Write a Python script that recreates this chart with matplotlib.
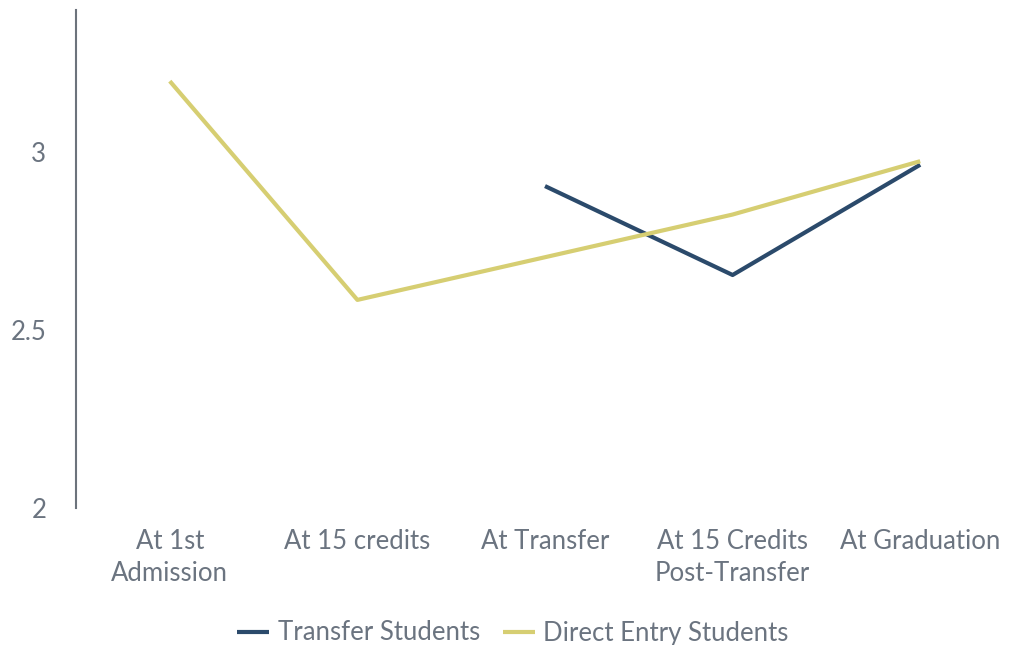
import matplotlib
matplotlib.use("Agg")
import matplotlib.pyplot as plt

categories = ["At 1st\nAdmission", "At 15 credits", "At Transfer", "At 15 Credits\nPost-Transfer", "At Graduation"]
transfer = [None, None, 2.905, 2.655, 2.965]
direct = [3.20, 2.585, 2.705, 2.825, 2.975]
yticks = [2, 2.5, 3]
ytick_labels = ["2", "2.5", "3"]

plt.rcParams['font.family'] = ['Lato', 'DejaVu Sans']
text_color = "#6b7480"
navy = "#2b4a6b"
yellow = "#d6ce72"

fig = plt.figure(figsize=(10.19, 6.45), dpi=100)
ax = fig.add_axes([76/1019, 1 - 508/645, (1014-76)/1019, (508-10)/645])

x = list(range(len(categories)))
tx = [i for i, v in zip(x, transfer) if v is not None]
ty = [v for v in transfer if v is not None]
ax.plot(tx, ty, color=navy, lw=3, label="Transfer Students", solid_capstyle='butt')
ax.plot(x, direct, color=yellow, lw=3, label="Direct Entry Students", solid_capstyle='butt')

ax.set_xlim(-0.5, 4.5)
ax.set_ylim(2, 3.4)
ax.set_xticks(x)
ax.set_xticklabels(categories, fontsize=18.5, color=text_color, linespacing=1.35)
ax.set_yticks(yticks)
ax.set_yticklabels(ytick_labels, fontsize=18.5, color=text_color)
ax.tick_params(axis='both', length=0)
ax.tick_params(axis='y', pad=21.5)
ax.tick_params(axis='x', pad=15)
for s in ['top', 'right', 'bottom']:
    ax.spines[s].set_visible(False)
ax.spines['left'].set_color("#6c737c")
ax.spines['left'].set_linewidth(1.5)

leg = fig.legend(loc='center', bbox_to_anchor=(513/1019, 1 - 633/645), ncol=2, frameon=False,
                 fontsize=18.5, handlelength=1.25, handletextpad=0.32, columnspacing=0.9)
for t in leg.get_texts():
    t.set_color(text_color)

fig.savefig("out.png", dpi=100)
